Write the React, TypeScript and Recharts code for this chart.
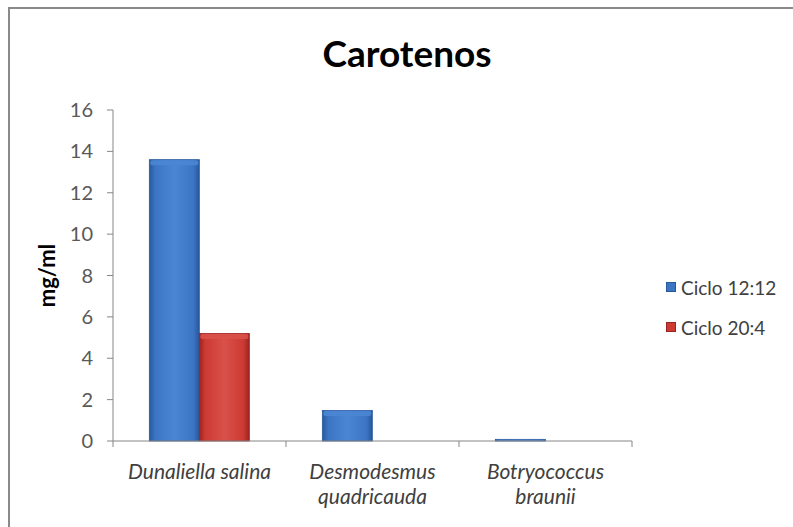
import React from 'react';
import { BarChart, Bar, XAxis, YAxis, Legend } from 'recharts';

const categories = ['Dunaliella salina', 'Desmodesmus quadricauda', 'Botryococcus braunii'];
const ciclo1212 = [13.6, 1.47, 0.08];
const ciclo204 = [5.2, 0, 0];
const yTicks = [0, 2, 4, 6, 8, 10, 12, 14, 16];

const seriesInfo = [
  { key: 'c1212', name: 'Ciclo 12:12', base: '#3b75c4', dark: '#28589c', light: '#4a86d4' },
  { key: 'c204', name: 'Ciclo 20:4', base: '#cc3a33', dark: '#9c2420', light: '#d9514a' },
];

const data = categories.map((name, i) => ({
  name,
  c1212: ciclo1212[i],
  c204: ciclo204[i],
}));

const FONT = 'Lato, "Open Sans", sans-serif';
const LEGEND_W = 127;
const AXIS_GRAY = '#868686';

// Bars with a soft cylinder-like shading and a light bevel on top
const makeBarShape = (s: typeof seriesInfo[number]) => (props: any) => {
  const { x, y, width, height } = props;
  if (!height || height <= 0) return <g />;
  const bevel = Math.min(5, height / 2);
  return (
    <g>
      <rect x={x} y={y} width={width} height={height} fill={`url(#grad-${s.key})`} stroke={s.dark} strokeWidth={0.8} />
      <rect x={x + 1} y={y + 0.5} width={width - 2} height={bevel} fill={s.light} opacity={0.9} rx={2} />
    </g>
  );
};

// Category label, plus tick marks on the band edges instead of the band centre
const CategoryTick = (props: any) => {
  const { x, y, payload, index } = props;
  const half = payload.offset || 0;
  const label: string = payload.value;
  const lines = label.length > 18 ? label.split(' ') : [label];
  return (
    <g>
      <line x1={x - half} x2={x - half} y1={y} y2={y + 6} stroke={AXIS_GRAY} />
      {index === categories.length - 1 && (
        <line x1={x + half} x2={x + half} y1={y} y2={y + 6} stroke={AXIS_GRAY} />
      )}
      <text x={x} y={y} textAnchor="middle" fill="#404040" fontSize={21} fontStyle="italic" fontFamily={FONT}>
        {lines.map((l, i) => (
          <tspan key={i} x={x} dy={i === 0 ? 38 : 25}>{l}</tspan>
        ))}
      </text>
    </g>
  );
};

const renderLegend = () => (
  <div style={{ fontFamily: FONT, fontSize: 19, color: '#404040' }}>
    {seriesInfo.map((s, i) => (
      <div key={s.key} style={{ display: 'flex', alignItems: 'center', height: 20, marginBottom: i === 0 ? 20 : 0 }}>
        <span style={{ display: 'inline-block', width: 8, height: 8, background: s.base, border: `1px solid ${s.dark}`, marginRight: 5 }} />
        {s.name}
      </div>
    ))}
  </div>
);

export default function App() {
  return (
    <div style={{ position: 'absolute', left: 0, top: 0, width: 793, height: 527, overflow: 'hidden', background: '#fff' }}>
      <div style={{ position: 'absolute', left: 8, top: 7, width: 900, height: 700, borderLeft: '2px solid #8a8a8a', borderTop: '2px solid #8a8a8a' }} />
      <div style={{ position: 'absolute', left: 0, width: 814, top: 30, textAlign: 'center', fontFamily: FONT, fontWeight: 700, fontSize: 37, color: '#000' }}>
        Carotenos
      </div>
      <BarChart
        width={793}
        height={527}
        data={data}
        margin={{ top: 110, right: 161 - LEGEND_W, left: 43, bottom: 26 }}
        barCategoryGap="21%"
        barGap={0}
        style={{ position: 'absolute', left: 0, top: 0 }}
      >
        <defs>
          {seriesInfo.map((s) => (
            <linearGradient key={s.key} id={`grad-${s.key}`} x1="0" y1="0" x2="1" y2="0">
              <stop offset="0%" stopColor={s.dark} />
              <stop offset="12%" stopColor={s.base} />
              <stop offset="50%" stopColor={s.light} />
              <stop offset="88%" stopColor={s.base} />
              <stop offset="100%" stopColor={s.dark} />
            </linearGradient>
          ))}
        </defs>
        <XAxis
          dataKey="name"
          height={60}
          tickLine={false}
          tickSize={0}
          tickMargin={0}
          axisLine={{ stroke: AXIS_GRAY }}
          tick={<CategoryTick />}
          interval={0}
        />
        <YAxis
          width={70}
          domain={[0, 16]}
          ticks={yTicks}
          interval={0}
          axisLine={{ stroke: AXIS_GRAY }}
          tickLine={{ stroke: AXIS_GRAY }}
          tickSize={6}
          tickMargin={14}
          tick={{ fill: '#595959', fontSize: 20, fontFamily: FONT }}
          label={{
            value: 'mg/ml',
            angle: -90,
            position: 'insideLeft',
            offset: 4,
            style: { textAnchor: 'middle', fontWeight: 700, fontSize: 22, fill: '#000', fontFamily: FONT },
          }}
        />
        <Legend
          layout="vertical"
          align="right"
          verticalAlign="middle"
          content={renderLegend}
          wrapperStyle={{ left: 666, top: 277, width: LEGEND_W }}
        />
        {seriesInfo.map((s) => (
          <Bar
            key={s.key}
            dataKey={s.key}
            name={s.name}
            fill={s.base}
            shape={makeBarShape(s)}
            isAnimationActive={false}
          />
        ))}
      </BarChart>
    </div>
  );
}
